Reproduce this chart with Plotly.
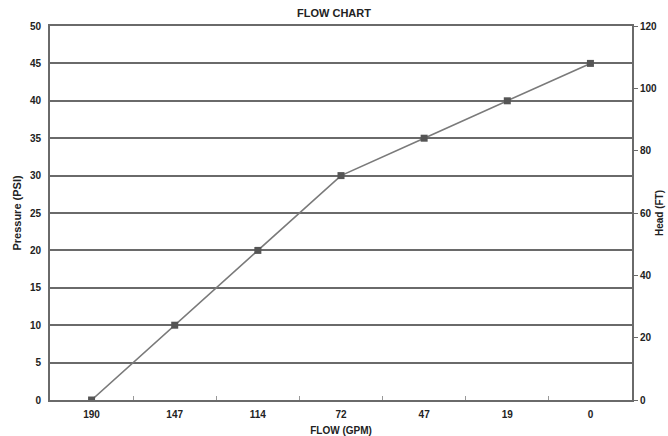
import plotly.graph_objects as go

# flow in GPM (category labels) and matching pressure in PSI
flow_gpm = ["190", "147", "114", "72", "47", "19", "0"]
pressure_psi = [0, 10, 20, 30, 35, 40, 45]

left_ticks = [0, 5, 10, 15, 20, 25, 30, 35, 40, 45, 50]
right_ticks = [0, 20, 40, 60, 80, 100, 120]

dark = "#222222"
grid = "#6a6a6a"
tick_font = dict(size=10, color=dark, weight="bold")

fig = go.Figure()
fig.add_trace(go.Scatter(
    x=flow_gpm, y=pressure_psi, mode="lines+markers",
    line=dict(color="#7a7a7a", width=1.6),
    marker=dict(symbol="square", size=7, color="#555555"),
    showlegend=False, hoverinfo="x+y",
))
# empty trace so the right-hand Head axis gets drawn
fig.add_trace(go.Scatter(x=[], y=[], yaxis="y2", showlegend=False))

fig.update_layout(
    width=668, height=436,
    margin=dict(l=50, r=36, t=26, b=36),
    paper_bgcolor="white", plot_bgcolor="white",
    font=dict(family="Liberation Sans, Arial, sans-serif", size=10, color=dark),
    title=dict(text="<b>FLOW CHART</b>", x=0.5, xanchor="center",
               yref="container", y=1 - 13 / 436, yanchor="middle",
               automargin=False, font=dict(size=11, color=dark)),
    xaxis=dict(
        type="category", range=[-0.5, 6.5], tickson="boundaries",
        ticks="inside", ticklen=4, tickcolor="#999999",
        showline=True, mirror=True, linecolor=grid, linewidth=2, showgrid=False,
        tickfont=tick_font, automargin=False, ticklabelstandoff=4,
        title=dict(text="<b>FLOW (GPM)</b>", standoff=8, font=dict(size=10, color=dark)),
    ),
    yaxis=dict(
        range=[0, 50], tickvals=left_ticks,
        showline=True, linecolor=grid, linewidth=2,
        showgrid=True, gridcolor=grid, gridwidth=1.5, zeroline=False,
        ticks="", ticklabelstandoff=5,
        tickfont=tick_font, automargin=False,
        title=dict(text="<b>Pressure (PSI)</b>", standoff=6, font=dict(size=11, color=dark)),
    ),
    yaxis2=dict(
        range=[0, 120], tickvals=right_ticks, overlaying="y", side="right",
        showline=True, linecolor=grid, linewidth=2, showgrid=False, zeroline=False,
        ticks="outside", ticklen=4, tickcolor=grid,
        tickfont=tick_font, automargin=False,
        title=dict(text="<b>Head (FT)</b>", standoff=0, font=dict(size=10, color=dark)),
    ),
)

# drop the browser's default body margin so the figure sits at the page corner
fig.write_html("out.html", config={"displayModeBar": False},
               post_script="document.body.style.margin='0';")
